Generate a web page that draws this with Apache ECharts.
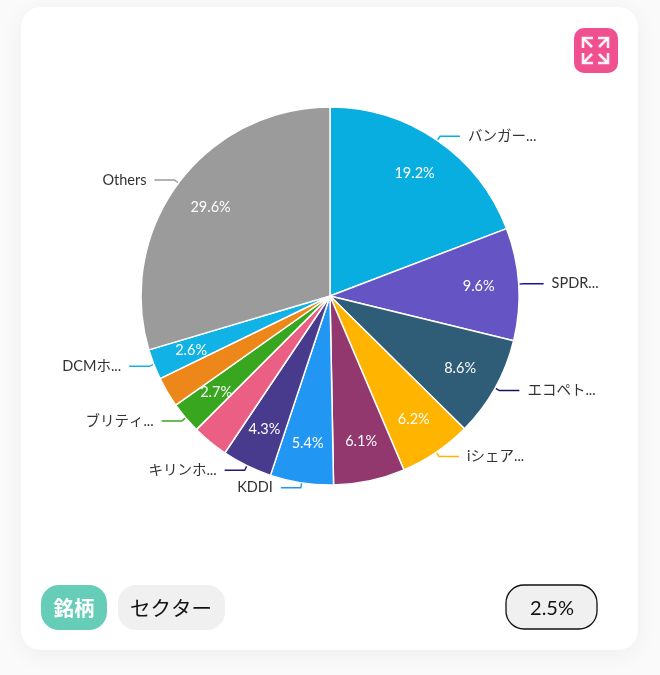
<!DOCTYPE html>
<html>
<head>
<meta charset="utf-8">
<style>html,body{margin:0;padding:0;background:#fafafa}#c{width:660px;height:675px}</style>
<script src="https://cdn.jsdelivr.net/npm/echarts@6/dist/echarts.min.js"></script>
</head>
<body>
<div id="c"></div>
<script>
const names = ['バンガー...','SPDR...','エコペト...','iシェア...','','KDDI','キリンホ...','','ブリティ...','','DCMホ...','Others'];
const values = [19.2,9.6,8.6,6.2,6.1,5.4,4.3,3.1,2.7,2.6,2.6,29.6];
const percentLabels = ['19.2%','9.6%','8.6%','6.2%','6.1%','5.4%','4.3%','','2.7%','','2.6%','29.6%'];
const colors = ['#08aee0','#6554c4','#2f5d78','#ffb400','#93386f','#2196f3','#483a8c','#ec5f84','#38a61f','#ee8719','#11b2e6','#9b9b9b'];
const lineColors = ['#08aee0','#1a0fa8','#14145e','#ffb400','#93386f','#2196f3','#23196e','#ec5f84','#38a61f','#ee8719','#11b2e6','#9b9b9b'];
const FONT = "Lato, 'Noto Sans CJK JP', sans-serif";

const outer = values.map((v,i)=>({
  value:v, name:names[i],
  itemStyle:{color:colors[i]},
  label:{show:names[i]!==''},
  labelLine:{show:names[i]!=='',lineStyle:{color:lineColors[i],width:1.4}}
}));
const inner = values.map((v,i)=>({
  value:v, name:percentLabels[i],
  label:{show:percentLabels[i]!==''}
}));

function arrow(x1,y1,x2,y2,hx,hy){
  return [
    {type:'line',z:5,shape:{x1:x1,y1:y1,x2:x2,y2:y2},style:{stroke:'#fff',lineWidth:2.6,opacity:0.92}},
    {type:'polyline',z:5,shape:{points:[[x1+hx,y1],[x1,y1],[x1,y1+hy]]},style:{stroke:'#fff',fill:null,lineWidth:2.6,opacity:0.92}}
  ];
}
const chart = echarts.init(document.getElementById('c'),null,{renderer:'canvas'});
chart.setOption({
  animation:false,
  backgroundColor:'#fafafa',
  graphic:{elements:[
    {type:'rect',z:-10,shape:{x:21,y:7,width:617,height:643,r:20},style:{fill:'#fff',shadowBlur:24,shadowColor:'rgba(0,0,0,0.05)',shadowOffsetY:4}},
    {type:'rect',z:5,shape:{x:574,y:28,width:44,height:45,r:10},style:{fill:'#f0508f'}},
    ...arrow(583,38,592,47,10,10),
    ...arrow(608,38,599,47,-10,10),
    ...arrow(583,63,592,54,10,-10),
    ...arrow(608,63,599,54,-10,-10),
    {type:'rect',z:5,shape:{x:41,y:585,width:66,height:45,r:18},style:{fill:'#66cdb8'}},
    {type:'text',z:6,style:{x:74,y:608,text:'銘柄',fill:'#fff',font:"bold 20.5px 'Noto Sans CJK JP'",align:'center',verticalAlign:'middle'}},
    {type:'rect',z:5,shape:{x:118,y:585,width:107,height:45,r:18},style:{fill:'#f0f0f0'}},
    {type:'text',z:6,style:{x:171,y:608,text:'セクター',fill:'#111',font:"20.5px 'Noto Sans CJK JP'",align:'center',verticalAlign:'middle'}},
    {type:'rect',z:5,shape:{x:506,y:585,width:91,height:44,r:18},style:{fill:'#f0f0f0',stroke:'#111',lineWidth:1.3}},
    {type:'text',z:6,style:{x:552,y:609,text:'2.5%',fill:'#111',font:"20px Lato",align:'center',verticalAlign:'middle'}}
  ]},
  series:[
    {
      type:'pie',center:[330,296],radius:[0,189],startAngle:90,clockwise:true,
      avoidLabelOverlap:false,silent:true,
      data:outer,
      itemStyle:{borderColor:'#fff',borderWidth:1.5},
      label:{position:'outside',formatter:'{b}',color:'#333',fontSize:14.5,fontFamily:FONT,distanceToLabelLine:8},
      labelLine:{length:5,length2:20,smooth:false}
    },
    {
      type:'pie',center:[330,296],radius:[103,189],startAngle:90,clockwise:true,
      avoidLabelOverlap:false,silent:true,
      data:inner,
      itemStyle:{color:'transparent',borderWidth:0},
      label:{position:'inside',formatter:'{b}',color:'#fff',fontSize:14.5,fontFamily:FONT},
      labelLine:{show:false}
    }
  ]
});
</script>
</body>
</html>
